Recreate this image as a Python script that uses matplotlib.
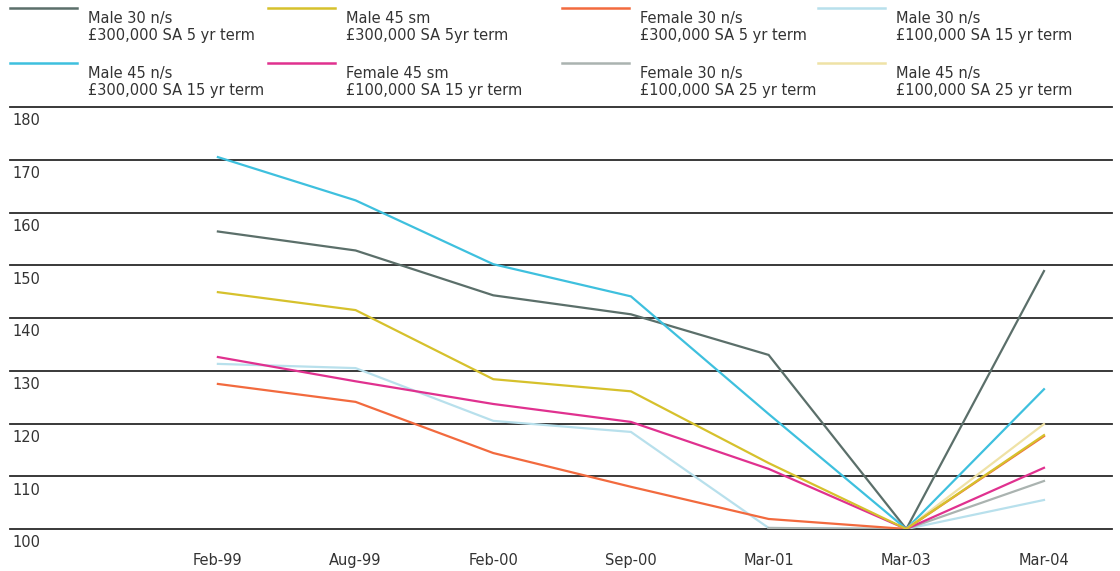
import numpy as np
import matplotlib
matplotlib.use("Agg")
import matplotlib.pyplot as plt
from matplotlib.lines import Line2D

plt.rcParams["font.family"] = ["DejaVu Sans"]

periods = ["Feb-99", "Aug-99", "Feb-00", "Sep-00", "Mar-01", "Mar-03", "Mar-04"]
nan = np.nan

male30_ns_300k_5 = [156.4, 152.8, 144.3, 140.7, 133.0, 100.0, 148.9]
male45_sm_300k_5 = [144.9, 141.5, 128.4, 126.1, 112.5, 100.0, 117.8]
female30_ns_300k_5 = [127.5, 124.1, 114.4, 108.0, 101.9, 100.0, 117.6]
male30_ns_100k_15 = [131.3, 130.5, 120.5, 118.4, 100.2, 100.0, 105.5]
male45_ns_300k_15 = [170.5, 162.3, 150.2, 144.1, 121.8, 100.0, 126.5]
female45_sm_100k_15 = [132.6, 128.0, 123.7, 120.3, 111.4, 100.0, 111.6]
female30_ns_100k_25 = [nan, nan, nan, nan, 100.2, 100.0, 109.1]
male45_ns_100k_25 = [nan, nan, nan, nan, nan, 100.0, 119.9]

series = [
    ("Male 30 n/s\n£300,000 SA 5 yr term", male30_ns_300k_5, "#5b6f6a", 4),
    ("Male 45 sm\n£300,000 SA 5yr term", male45_sm_300k_5, "#d6c12c", 6),
    ("Female 30 n/s\n£300,000 SA 5 yr term", female30_ns_300k_5, "#f26a3e", 5),
    ("Male 30 n/s\n£100,000 SA 15 yr term", male30_ns_100k_15, "#b8e0ec", 3),
    ("Male 45 n/s\n£300,000 SA 15 yr term", male45_ns_300k_15, "#3ec0de", 4),
    ("Female 45 sm\n£100,000 SA 15 yr term", female45_sm_100k_15, "#e0318f", 5),
    ("Female 30 n/s\n£100,000 SA 25 yr term", female30_ns_100k_25, "#aab3b0", 3),
    ("Male 45 n/s\n£100,000 SA 25 yr term", male45_ns_100k_25, "#efe2a6", 4),
]

yticks = [100, 110, 120, 130, 140, 150, 160, 170, 180]

W, H = 1120, 571
fig = plt.figure(figsize=(W / 100, H / 100), dpi=100)
ax = fig.add_axes([10 / W, 1 - 529 / H, 1102 / W, 422 / H])

x = np.arange(len(periods))
for label, vals, color, z in series:
    ax.plot(x, vals, color=color, lw=1.6, zorder=z, solid_joinstyle="miter")

for v in yticks:
    ax.axhline(v, color="#2a2a2a", lw=1.3, zorder=1, clip_on=False)
    ax.text(0.002, v - 1.2, str(v), transform=ax.get_yaxis_transform(),
            ha="left", va="top", fontsize=10.5, color="#333333")

ax.set_xlim(-1.51, 6.494)
ax.set_ylim(100, 180)
ax.set_yticks([])
ax.set_xticks(x)
ax.set_xticklabels(periods, fontsize=10.5, color="#333333")
ax.tick_params(axis="x", length=0, pad=17)
for s in ax.spines.values():
    s.set_visible(False)

# legend: 4 columns x 2 rows, line sample above-left of a two-line label
col_x = [10, 268, 562, 818]
row_y = [8, 63]
for i, (label, vals, color, z) in enumerate(series):
    cx = col_x[i % 4]
    ry = row_y[i // 4]
    fig.add_artist(Line2D([cx / W, (cx + 67) / W], [1 - ry / H, 1 - ry / H],
                          color=color, lw=1.8, transform=fig.transFigure))
    fig.text((cx + 78) / W, 1 - (ry + 3) / H, label, fontsize=10.5,
             color="#333333", ha="left", va="top", linespacing=1.15)

fig.savefig("out.png", dpi=100)
